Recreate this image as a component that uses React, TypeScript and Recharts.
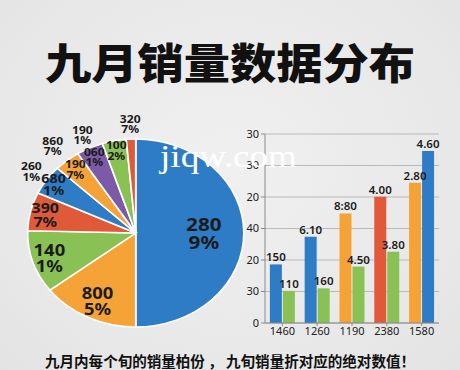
import { PieChart, Pie, Cell, BarChart, Bar, XAxis, YAxis, CartesianGrid, LabelList } from 'recharts';

const PIE_NAMES = ['s1', 's2', 's3', 's4', 's5', 's6', 's7', 's8', 's9'];
const PIE_SHARES = [50, 14.6, 10.8, 6.6, 5.1, 3.9, 4.0, 3.6, 1.4];
const PIE_VALUE_LABELS = ['280', '800', '140', '390', '680', '190', '060', '100', ''];
const PIE_PCT_LABELS = ['9%', '5%', '1%', '7%', '1%', '7%', '1%', '2%', ''];
const PIE_OUTER_VALUE_LABELS = ['', '', '', '', '260', '860', '190', '', '320'];
const PIE_OUTER_PCT_LABELS = ['', '', '', '', '1%', '7%', '1%', '', '7%'];

// bars
const BAR_CATEGORIES = ['1460', '1260', '1190', '2380', '1580'];
const BAR_A_VALUES = [18.6, 27.4, 34.8, 40.1, 44.5];
const BAR_B_VALUES = [10.2, 11.0, 17.9, 22.6, 54.6];
const BAR_A_LABELS = ['150', '6.10', '8:80', '4.00', '2.80'];
const BAR_B_LABELS = ['110', '160', '4.50', '3.80', '4.60'];
const Y_TICKS = [0, 10, 20, 30, 40, 50, 60];
const Y_TICK_LABELS = ['0', '30', '20', '40', '20', '30', '30'];

const BLUE = '#2f7cc6';
const ORANGE = '#f5a236';
const GREEN = '#89c155';
const RED = '#e05a3a';
const PURPLE = '#7d5aa8';

const PIE_COLORS = [BLUE, ORANGE, GREEN, RED, BLUE, ORANGE, PURPLE, GREEN, RED];
const BAR_A_COLORS = [BLUE, BLUE, ORANGE, RED, ORANGE];
const BAR_B_COLORS = [GREEN, GREEN, GREEN, GREEN, BLUE];

// label placement per slice (fraction of radius) and font size
const INNER_R = [0.63, 0.8, 0.84, 0.86, 0.92, 0.88, 0.9, 0.9, 0];
const INNER_FONT = [18, 16, 16, 14, 12.5, 10.5, 10.5, 10.5, 0];
const OUTER_R = [0, 0, 0, 0, 1.17, 1.21, 1.16, 0, 1.17];
const OUTER_FONT = 10.5;

const RAD = Math.PI / 180;
const LABEL_FONT = '"Noto Sans", "DejaVu Sans", sans-serif';

const pieData = PIE_NAMES.map((name, i) => ({ name, value: PIE_SHARES[i] }));

const barData = BAR_CATEGORIES.map((name, i) => ({
  name,
  a: BAR_A_VALUES[i],
  b: BAR_B_VALUES[i],
  labelA: BAR_A_LABELS[i],
  labelB: BAR_B_LABELS[i],
}));

// value on top, percent below, as one text element
function TwoLine({ x, y, top, bottom, size }: { x: number; y: number; top: string; bottom: string; size: number }) {
  return (
    <text textAnchor="middle" dominantBaseline="central"
      fontSize={size} fontWeight={700} fontFamily={LABEL_FONT} fill="#1b1b1b">
      <tspan x={x} y={y - size * 0.5}>{top}</tspan>
      <tspan x={x} y={y + size * 0.5}>{bottom}</tspan>
    </text>
  );
}

function renderPieLabel(props: any) {
  const { cx, cy, midAngle, outerRadius, index } = props;
  const cos = Math.cos(-midAngle * RAD);
  const sin = Math.sin(-midAngle * RAD);
  const parts = [];
  if (PIE_VALUE_LABELS[index]) {
    const r = outerRadius * INNER_R[index];
    parts.push(
      <TwoLine key="in" x={cx + r * cos} y={cy + r * sin}
        top={PIE_VALUE_LABELS[index]} bottom={PIE_PCT_LABELS[index]} size={INNER_FONT[index]} />
    );
  }
  if (PIE_OUTER_VALUE_LABELS[index]) {
    const r = outerRadius * OUTER_R[index];
    parts.push(
      <TwoLine key="out" x={cx + r * cos} y={cy + r * sin}
        top={PIE_OUTER_VALUE_LABELS[index]} bottom={PIE_OUTER_PCT_LABELS[index]} size={OUTER_FONT} />
    );
  }
  return <g>{parts}</g>;
}

export default function App() {
  return (
    <div
      style={{
        position: 'absolute',
        left: 0,
        top: 0,
        width: 460,
        height: 370,
        overflow: 'hidden',
        background: 'radial-gradient(ellipse at 50% 45%, #f0f0f0 0%, #e8e8e8 70%, #e3e3e3 100%)',
      }}
    >
      {/* pie, stretched sideways like the reference */}
      <div
        style={{
          position: 'absolute',
          left: 20,
          top: 108,
          width: 220,
          height: 240,
          transform: 'scaleX(1.15)',
          transformOrigin: '110px 120px',
        }}
      >
        <PieChart width={220} height={240} style={{ overflow: 'visible' }}>
          <Pie
            data={pieData}
            dataKey="value"
            cx={110}
            cy={120}
            outerRadius={94}
            startAngle={90}
            endAngle={-270}
            stroke="#ffffff"
            strokeWidth={1.5}
            label={renderPieLabel}
            labelLine={false}
            isAnimationActive={false}
          >
            {pieData.map((d, i) => (
              <Cell key={d.name} fill={PIE_COLORS[i]} />
            ))}
          </Pie>
        </PieChart>
      </div>

      {/* grouped bars */}
      <div style={{ position: 'absolute', left: 235, top: 120 }}>
        <BarChart
          width={215}
          height={230}
          data={barData}
          margin={{ top: 14, right: 11, left: 0, bottom: 5 }}
          barCategoryGap="14%"
          barGap={1}
        >
          <CartesianGrid vertical={false} stroke="#b9b9b9" />
          <XAxis
            dataKey="name"
            height={22}
            tickSize={3}
            tickMargin={1}
            stroke="#8a8a8a"
            tick={{ fontSize: 11, fill: '#222', fontFamily: LABEL_FONT }}
          />
          <YAxis
            width={30}
            domain={[0, 60]}
            ticks={Y_TICKS}
            interval={0}
            tickSize={4}
            tickMargin={2}
            stroke="#8a8a8a"
            tickFormatter={(v: number) => Y_TICK_LABELS[Y_TICKS.indexOf(v)]}
            tick={{ fontSize: 11, fill: '#222', fontFamily: LABEL_FONT }}
          />
          <Bar dataKey="a" isAnimationActive={false}>
            {barData.map((d, i) => (
              <Cell key={d.name} fill={BAR_A_COLORS[i]} />
            ))}
            <LabelList dataKey="labelA" position="top" offset={3}
              style={{ fontSize: 11.5, fontWeight: 600, fill: '#1b1b1b', fontFamily: LABEL_FONT }} />
          </Bar>
          <Bar dataKey="b" isAnimationActive={false}>
            {barData.map((d, i) => (
              <Cell key={d.name} fill={BAR_B_COLORS[i]} />
            ))}
            <LabelList dataKey="labelB" position="top" offset={3}
              style={{ fontSize: 11.5, fontWeight: 600, fill: '#1b1b1b', fontFamily: LABEL_FONT }} />
          </Bar>
        </BarChart>
      </div>

      {/* title, caption and watermark */}
      <svg width={460} height={370} style={{ position: 'absolute', left: 0, top: 0, pointerEvents: 'none' }}>
        <text x={230} y={79} textAnchor="middle" fontSize={42} fontWeight={900}
          fontFamily='"Noto Sans CJK SC", sans-serif' fill="#111" textLength={370} lengthAdjust="spacingAndGlyphs">
          九月销量数据分布
        </text>
        <text x={160} y={167} fontSize={32} fontFamily='"Liberation Serif", serif' fill="#ffffff"
          textLength={137} lengthAdjust="spacingAndGlyphs">
          jiqw.com
        </text>
        <text x={230} y={367} textAnchor="middle" fontSize={14.5} fontWeight={700}
          fontFamily='"Noto Sans CJK SC", sans-serif' fill="#111" textLength={370} lengthAdjust="spacingAndGlyphs">
          九月内每个旬的销量柏份 ， 九旬销量折对应的绝对数值！
        </text>
      </svg>
    </div>
  );
}
